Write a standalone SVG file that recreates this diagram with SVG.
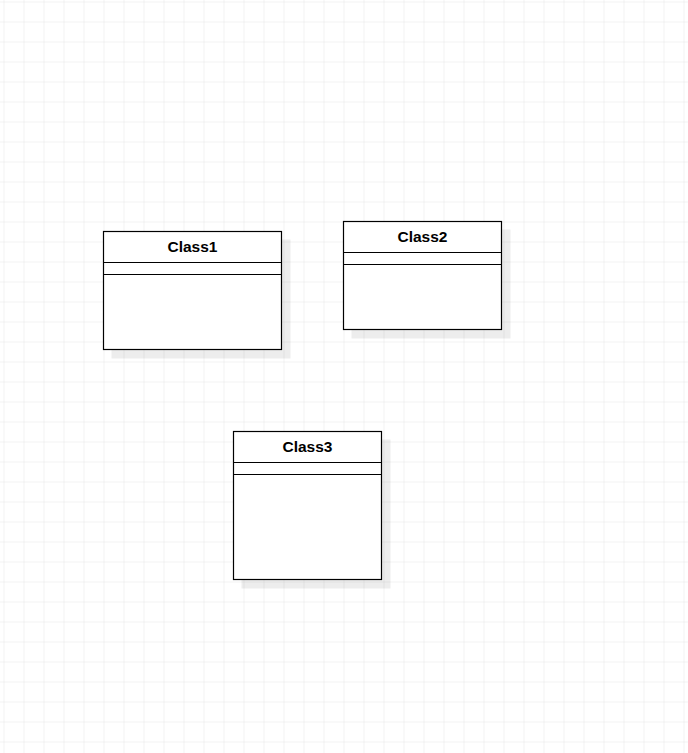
<svg xmlns="http://www.w3.org/2000/svg" width="688" height="753" viewBox="0 0 688 753">
<defs>
<pattern id="grid" x="3.5" y="1.5" width="20" height="20" patternUnits="userSpaceOnUse">
<path d="M0 0H20M0 0V20" fill="none" stroke="#e6e6e6" stroke-width="1"/>
</pattern>
<style>
.box{fill:#ffffff;stroke:#000000;stroke-width:1.2}
.shadow{fill:#000000;fill-opacity:0.07;stroke:none}
.sep{stroke:#000000;stroke-width:1.2}
.title{font-family:"Liberation Sans",Arial,sans-serif;font-weight:bold;font-size:15.5px;text-anchor:middle;fill:#000000}
</style>
</defs>
<rect width="688" height="753" fill="#ffffff"/>
<rect width="688" height="753" fill="url(#grid)"/>
<g id="connectors"></g>
<g id="class1">
<rect class="shadow" x="111.5" y="239.5" width="179" height="119"/>
<rect class="box" x="103.5" y="231.5" width="178" height="118"/>
<line class="sep" x1="103.5" y1="262.5" x2="281.5" y2="262.5"/>
<line class="sep" x1="103.5" y1="274.5" x2="281.5" y2="274.5"/>
<text class="title" x="192.5" y="252.3">Class1</text>
</g>
<g id="class2">
<rect class="shadow" x="351.5" y="229.5" width="159" height="109"/>
<rect class="box" x="343.5" y="221.5" width="158" height="108"/>
<line class="sep" x1="343.5" y1="252.5" x2="501.5" y2="252.5"/>
<line class="sep" x1="343.5" y1="264.5" x2="501.5" y2="264.5"/>
<text class="title" x="422.5" y="242.3">Class2</text>
</g>
<g id="class3">
<rect class="shadow" x="241.5" y="439.5" width="149" height="149"/>
<rect class="box" x="233.5" y="431.5" width="148" height="148"/>
<line class="sep" x1="233.5" y1="462.5" x2="381.5" y2="462.5"/>
<line class="sep" x1="233.5" y1="474.5" x2="381.5" y2="474.5"/>
<text class="title" x="307.5" y="452.3">Class3</text>
</g>
</svg>
